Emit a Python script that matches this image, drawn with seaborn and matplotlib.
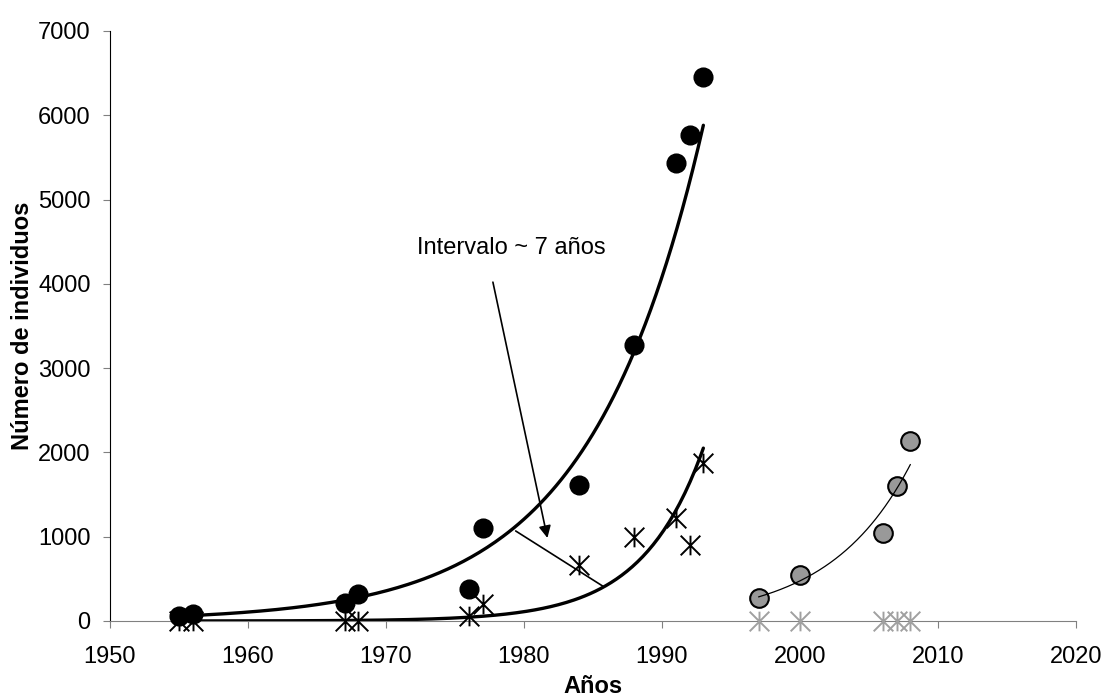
import numpy as np
import pandas as pd
import matplotlib
matplotlib.use("Agg")
import matplotlib.pyplot as plt
from matplotlib.path import Path
import seaborn as sns

sns.set_style("ticks")
plt.rcParams['font.family'] = ['Liberation Sans', 'DejaVu Sans']
plt.rcParams['text.color'] = 'black'
plt.rcParams['axes.labelcolor'] = 'black'
plt.rcParams['xtick.labelcolor'] = 'black'
plt.rcParams['ytick.labelcolor'] = 'black'

# data
anios_a = [1955, 1956, 1967, 1968, 1976, 1977, 1984, 1988, 1991, 1992, 1993]
circulos_a = [60, 80, 210, 320, 380, 1100, 1610, 3270, 5430, 5770, 6450]
asteriscos_a = [0, 0, 0, 0, 65, 200, 660, 1000, 1220, 900, 1870]

anios_b = [1997, 2000, 2006, 2007, 2008]
circulos_b = [270, 545, 1040, 1600, 2135]
asteriscos_b = [0, 0, 0, 0, 0]

x_ticks = [1950, 1960, 1970, 1980, 1990, 2000, 2010, 2020]
y_ticks = [0, 1000, 2000, 3000, 4000, 5000, 6000, 7000]


def tendencia_exp(x, y, n=200):
    # exponential trendline (fit on ln y, zeros taken as 1)
    x = np.asarray(x, float)
    y = np.maximum(np.asarray(y, float), 1)
    b, a = np.polyfit(x, np.log(y), 1)
    xs = np.linspace(x.min(), x.max(), n)
    return pd.DataFrame({"x": xs, "y": np.exp(a + b * xs)})


# asterisk marker: X plus vertical bar
ast = Path([(0, -1), (0, 1), (-1, -1), (1, 1), (-1, 1), (1, -1)],
           [Path.MOVETO, Path.LINETO] * 3)

fig = plt.figure(figsize=(11.04, 6.99), dpi=100)
ax = fig.add_axes([0.0996, 0.1116, 0.875, 0.8441])

# trendlines
t1 = tendencia_exp(anios_a, circulos_a)
t2 = tendencia_exp(anios_a, asteriscos_a)
t3 = tendencia_exp(anios_b, circulos_b)
sns.lineplot(data=t1, x="x", y="y", ax=ax, color="black", lw=2.4, zorder=2)
sns.lineplot(data=t2, x="x", y="y", ax=ax, color="black", lw=2.4, zorder=2)
sns.lineplot(data=t3, x="x", y="y", ax=ax, color="black", lw=0.9, zorder=4)

# points
sns.scatterplot(x=anios_a, y=circulos_a, ax=ax, color="black", s=180,
                edgecolor="black", zorder=3, clip_on=False)
sns.scatterplot(x=anios_a, y=asteriscos_a, ax=ax, marker=ast, s=200,
                color="black", edgecolor="black", linewidth=1.4,
                zorder=3, clip_on=False)
sns.scatterplot(x=anios_b, y=circulos_b, ax=ax, color="#999999", s=180,
                edgecolor="black", linewidth=1.5, zorder=3, clip_on=False)
sns.scatterplot(x=anios_b, y=asteriscos_b, ax=ax, marker=ast, s=200,
                color="#a0a0a0", edgecolor="#a0a0a0", linewidth=1.4,
                zorder=3, clip_on=False)

# annotation
ax.annotate("", xy=(1981.7, 985), xytext=(1977.75, 4020),
            arrowprops=dict(arrowstyle="-|>", color="black", lw=1.2,
                            mutation_scale=18, shrinkA=0, shrinkB=0))
ax.text(1979.1, 4420, "Intervalo ~ 7 años", fontsize=17, ha="center",
        va="center")
ax.plot([1979.4, 1985.7], [1068, 415], color="black", lw=1.2, zorder=2)

ax.set_xlim(1950, 2020)
ax.set_ylim(0, 7000)
ax.set_xticks(x_ticks)
ax.set_yticks(y_ticks)
ax.tick_params(labelsize=17, length=5, direction="out")
ax.tick_params(axis="x", pad=13, colors="#808080", labelcolor="black")
ax.tick_params(axis="y", pad=9, colors="#808080", labelcolor="black")
ax.set_xlabel("Años", fontsize=17, fontweight="bold", labelpad=5)
ax.set_ylabel("Número de individuos", fontsize=17, fontweight="bold",
              labelpad=3)

ax.spines["top"].set_visible(False)
ax.spines["right"].set_visible(False)
ax.spines["bottom"].set_color("#808080")
ax.spines["left"].set_color("black")
if ax.get_legend():
    ax.get_legend().remove()

fig.savefig("out.png", dpi=100)
